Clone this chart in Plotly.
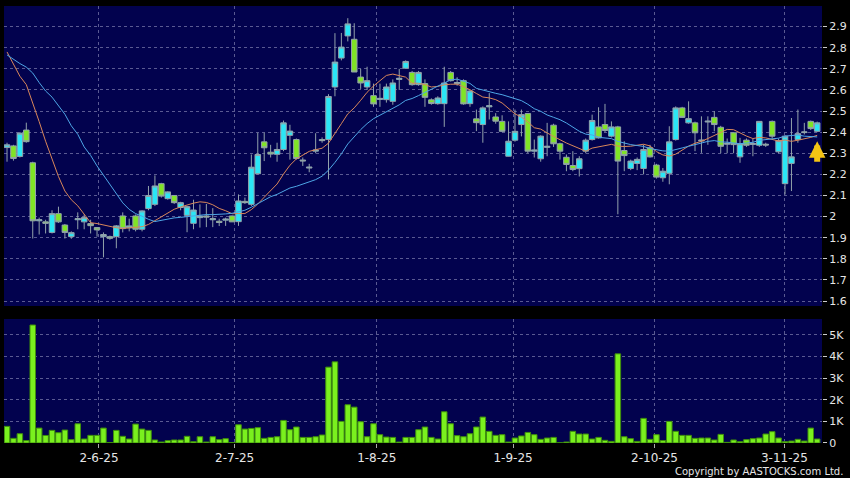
import plotly.graph_objects as go

# ---------------- data ----------------
open_ = [2.327, 2.335, 2.285, 2.41, 2.255, 1.98, 1.975, 1.925, 2.014, 1.96,
         1.905, 1.985, 1.975, 1.967, 1.948, 1.905, 1.905, 1.905, 2.003, 1.947,
         2.003, 1.94, 2.038, 2.058, 2.156, 2.085, 2.1, 2.043, 2.006, 1.968,
         1.995, 2.003, 1.985, 1.978, 1.983, 2.003, 1.976, 2.072, 2.058, 2.203,
         2.354, 2.305, 2.295, 2.318, 2.385, 2.365, 2.268, 2.23, 2.31, 2.365,
         2.365, 2.614, 2.751, 2.856, 2.84, 2.661, 2.614, 2.573, 2.555, 2.554,
         2.546, 2.65, 2.703, 2.683, 2.625, 2.63, 2.553, 2.535, 2.535, 2.683,
         2.63, 2.644, 2.535, 2.463, 2.436, 2.52, 2.472, 2.451, 2.286, 2.362,
         2.436, 2.488, 2.31, 2.274, 2.328, 2.433, 2.345, 2.281, 2.242, 2.227,
         2.31, 2.365, 2.425, 2.436, 2.381, 2.425, 2.313, 2.228, 2.252, 2.228,
         2.326, 2.244, 2.184, 2.205, 2.365, 2.515, 2.444, 2.444, 2.358, 2.448,
         2.47, 2.423, 2.343, 2.397, 2.283, 2.362, 2.342, 2.338, 2.343, 2.451,
         2.307, 2.156, 2.252, 2.365, 2.398, 2.451, 2.404]
high = [2.35, 2.34, 2.40, 2.445, 2.26, 1.995, 1.985, 2.03, 2.047, 1.965,
        1.93, 2.02, 2.01, 1.985, 1.95, 1.925, 1.91, 1.96, 2.02, 1.99,
        2.01, 2.03, 2.145, 2.195, 2.16, 2.12, 2.1, 2.07, 2.05, 2.08,
        2.058, 2.06, 2.04, 1.99, 1.995, 2.005, 2.105, 2.09, 2.294, 2.397,
        2.397, 2.34, 2.35, 2.455, 2.435, 2.37, 2.28, 2.25, 2.395, 2.375,
        2.58, 2.869, 2.87, 2.94, 2.916, 2.70, 2.71, 2.63, 2.63, 2.63,
        2.65, 2.70, 2.74, 2.69, 2.69, 2.65, 2.56, 2.57, 2.71, 2.69,
        2.66, 2.65, 2.60, 2.507, 2.522, 2.585, 2.49, 2.48, 2.451, 2.507,
        2.507, 2.49, 2.365, 2.385, 2.444, 2.44, 2.35, 2.294, 2.31, 2.286,
        2.37, 2.483, 2.518, 2.534, 2.451, 2.43, 2.357, 2.27, 2.28, 2.341,
        2.34, 2.25, 2.23, 2.428, 2.522, 2.52, 2.546, 2.45, 2.475, 2.475,
        2.499, 2.43, 2.37, 2.40, 2.373, 2.37, 2.368, 2.451, 2.35, 2.455,
        2.37, 2.385, 2.467, 2.507, 2.444, 2.455, 2.45]
low = [2.26, 2.265, 2.28, 2.35, 1.896, 1.915, 1.92, 1.92, 1.97, 1.896,
       1.895, 1.94, 1.94, 1.92, 1.905, 1.807, 1.89, 1.85, 1.925, 1.93,
       1.93, 1.93, 2.03, 2.05, 2.09, 2.08, 2.06, 2.03, 1.926, 1.94,
       1.948, 1.95, 1.95, 1.955, 1.956, 1.975, 1.956, 2.06, 2.05, 2.20,
       2.263, 2.28, 2.26, 2.31, 2.27, 2.27, 2.24, 2.21, 2.30, 2.35,
       2.176, 2.57, 2.74, 2.83, 2.685, 2.605, 2.60, 2.52, 2.52, 2.54,
       2.53, 2.60, 2.70, 2.62, 2.62, 2.52, 2.53, 2.53, 2.425, 2.64,
       2.62, 2.53, 2.52, 2.405, 2.35, 2.46, 2.44, 2.40, 2.285, 2.355,
       2.38, 2.30, 2.28, 2.26, 2.286, 2.33, 2.27, 2.215, 2.215, 2.19,
       2.30, 2.36, 2.37, 2.40, 2.375, 2.011, 2.215, 2.22, 2.22, 2.20,
       2.28, 2.18, 2.165, 2.153, 2.36, 2.47, 2.44, 2.31, 2.302, 2.34,
       2.404, 2.30, 2.30, 2.30, 2.255, 2.33, 2.286, 2.33, 2.33, 2.37,
       2.30, 2.105, 2.121, 2.35, 2.389, 2.41, 2.40]
close = [2.34, 2.275, 2.395, 2.355, 1.98, 1.985, 1.968, 2.014, 1.975, 1.925,
         1.924, 1.99, 1.995, 1.957, 1.937, 1.915, 1.897, 1.956, 1.943, 1.956,
         1.94, 2.027, 2.1, 2.145, 2.097, 2.117, 2.066, 2.066, 2.047, 2.031,
         2.003, 1.998, 1.99, 1.972, 1.988, 1.975, 2.074, 2.066, 2.234, 2.294,
         2.326, 2.296, 2.318, 2.444, 2.405, 2.275, 2.264, 2.234, 2.315, 2.36,
         2.569, 2.732, 2.803, 2.913, 2.685, 2.633, 2.644, 2.534, 2.56, 2.614,
         2.633, 2.655, 2.735, 2.625, 2.683, 2.565, 2.536, 2.562, 2.633, 2.644,
         2.635, 2.534, 2.595, 2.445, 2.515, 2.525, 2.452, 2.404, 2.357, 2.404,
         2.483, 2.31, 2.315, 2.381, 2.333, 2.345, 2.31, 2.247, 2.223, 2.274,
         2.362, 2.455, 2.373, 2.408, 2.425, 2.263, 2.289, 2.263, 2.271, 2.318,
         2.283, 2.187, 2.215, 2.354, 2.515, 2.47, 2.464, 2.397, 2.362, 2.452,
         2.436, 2.333, 2.347, 2.341, 2.345, 2.338, 2.346, 2.451, 2.339, 2.381,
         2.36, 2.381, 2.283, 2.393, 2.401, 2.417, 2.444]
volume = [770, 215, 430, 110, 5460, 690, 350, 585, 475, 600,
          155, 890, 185, 355, 355, 690, 20, 585, 310, 185,
          875, 645, 585, 140, 45, 110, 140, 140, 310, 60,
          290, 45, 290, 155, 200, 20, 845, 645, 675, 710,
          215, 260, 290, 1045, 615, 740, 260, 260, 290, 370,
          3510, 3755, 1000, 1770, 1660, 985, 290, 890, 385, 275,
          260, 45, 260, 260, 615, 740, 260, 185, 1445, 890,
          340, 290, 430, 740, 1200, 540, 355, 385, 45, 230,
          325, 490, 385, 170, 230, 260, 10, 45, 540, 415,
          415, 185, 260, 125, 75, 4125, 290, 200, 75, 1140,
          170, 385, 110, 1000, 540, 355, 355, 215, 230, 230,
          140, 400, 30, 140, 60, 155, 200, 230, 415, 525,
          230, 60, 90, 170, 90, 690, 185]

# moving-average values before a full window exists
ma10_head = [2.78, 2.72, 2.665, 2.625, 2.54, 2.45, 2.357, 2.27, 2.19]
ma20_head = [2.766, 2.745, 2.725, 2.708, 2.68, 2.635, 2.595, 2.566, 2.527, 2.485,
             2.43, 2.39, 2.33, 2.29, 2.24, 2.195, 2.15, 2.11, 2.065]

tick_labels = ["2-6-25", "2-7-25", "1-8-25", "1-9-25", "2-10-25", "3-11-25"]
tick_pos = [14.3, 35.4, 57.5, 78.7, 100.7, 120.9]
vol_tick_vals = [0, 1000, 2000, 3000, 4000, 5000]
vol_tick_text = ["0", "1K", "2K", "3K", "4K", "5K"]
arrow_price = 2.357
copyright_text = "Copyright by AASTOCKS.com Ltd."

# ---------------- derived ----------------
n = len(close)
idx = list(range(n))


def sma(vals, w, head):
    return head + [sum(vals[i - w + 1:i + 1]) / w for i in range(w - 1, len(vals))]


ma10 = sma(close, 10, ma10_head)
ma20 = sma(close, 20, ma20_head)

# ---------------- styling ----------------
NAVY = "#02024e"
GRID = "#5a5a92"
TXT = "#e6e6e6"
FONT = "DejaVu Sans"
xr = [-0.47, 126.75]

fig = go.Figure()
fig.add_trace(go.Candlestick(
    x=idx, open=open_, high=high, low=low, close=close,
    increasing=dict(line=dict(color="#93a3ab", width=1), fillcolor="#2be6f6"),
    decreasing=dict(line=dict(color="#93a3ab", width=1), fillcolor="#80e426"),
    whiskerwidth=0, xaxis="x", yaxis="y", showlegend=False, hoverinfo="skip"))
fig.add_trace(go.Scatter(x=idx, y=ma10, mode="lines",
                         line=dict(color="#d9875a", width=1),
                         xaxis="x", yaxis="y", showlegend=False, hoverinfo="skip"))
fig.add_trace(go.Scatter(x=idx, y=ma20, mode="lines",
                         line=dict(color="#4ea6e6", width=1),
                         xaxis="x", yaxis="y", showlegend=False, hoverinfo="skip"))
fig.add_trace(go.Bar(x=idx, y=volume,
                     marker=dict(color="#7af01e", line=dict(color="#3f8f0c", width=1)),
                     xaxis="x2", yaxis="y2", showlegend=False, hoverinfo="skip"))

axis_common = dict(showgrid=True, gridcolor=GRID, griddash="3px,3px", gridwidth=1,
                   zeroline=False, showline=False, fixedrange=True)

fig.update_layout(
    width=850, height=478,
    margin=dict(l=4, r=28, t=6, b=35),
    paper_bgcolor="#000000", plot_bgcolor=NAVY,
    bargap=0.14, boxgap=0.14, boxgroupgap=0,
    showlegend=False,
    font=dict(family=FONT, color=TXT, size=12),
    xaxis=dict(domain=[0, 1], anchor="y", range=xr, tickvals=tick_pos,
               showticklabels=False, ticks="", rangeslider=dict(visible=False),
               **axis_common),
    xaxis2=dict(domain=[0, 1], anchor="y2", range=xr, tickvals=tick_pos,
                ticktext=tick_labels, ticks="outside", ticklen=4, tickcolor="#aaaaaa",
                tickfont=dict(family=FONT, size=12, color=TXT), **axis_common),
    yaxis=dict(domain=[0.3135, 1], anchor="x", side="right", range=[1.5764, 2.9977],
               tick0=1.6, dtick=0.1, ticks="outside", ticklen=4, tickcolor="#cccccc",
               tickfont=dict(family=FONT, size=11, color=TXT), **axis_common),
    yaxis2=dict(domain=[0, 0.2838], anchor="x2", side="right", range=[0, 5738],
                tickvals=vol_tick_vals, ticktext=vol_tick_text, ticks="outside",
                ticklen=4, tickcolor="#cccccc",
                tickfont=dict(family=FONT, size=11, color=TXT), **axis_common),
)

fig.add_annotation(x=n - 1, y=arrow_price, xref="x", yref="y", ax=0, ay=22,
                   showarrow=True, arrowhead=2, arrowsize=0.55, arrowwidth=6,
                   arrowcolor="#f4c414", standoff=0, text="")
fig.add_annotation(x=1.0281, y=-0.0644, xref="paper", yref="paper",
                   xanchor="right", yanchor="middle", showarrow=False,
                   text=copyright_text, font=dict(family=FONT, size=10, color=TXT))

fig.write_html("out.html", config={"displayModeBar": False},
               post_script="document.body.style.margin='0';")
